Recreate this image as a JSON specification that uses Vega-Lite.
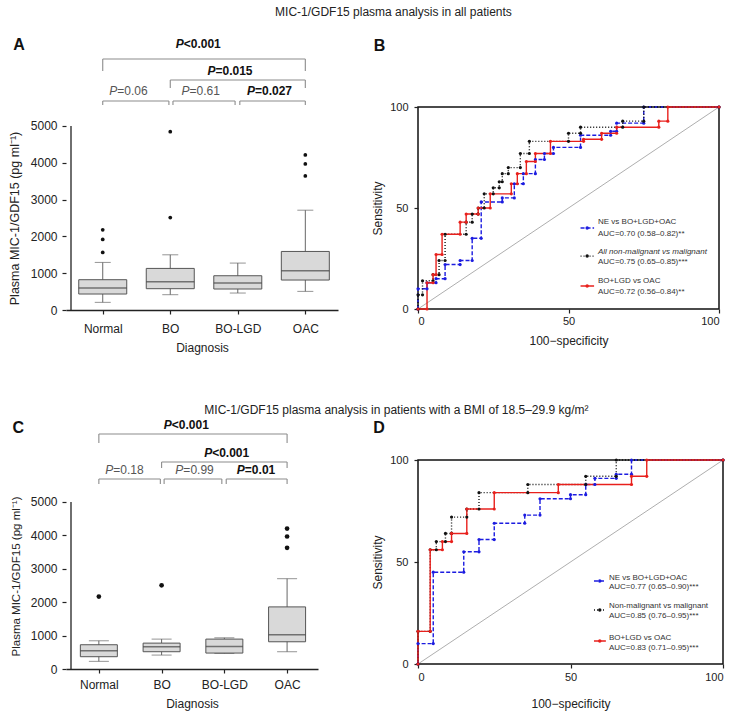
{
  "$schema": "https://vega.github.io/schema/vega-lite/v6.json",
  "background": "white",
  "padding": {"left": 8, "top": 5, "right": 2, "bottom": 2},
  "config": {
    "font": "Liberation Sans",
    "view": {"stroke": null},
    "axis": {"grid": false, "labelFontSize": 12, "titleFontSize": 12, "titleFontWeight": "normal", "labelColor": "#222", "titleColor": "#222", "domainColor": "#222", "tickColor": "#222", "domainWidth": 1.3, "tickWidth": 1.2, "tickSize": 4},
    "text": {"font": "Liberation Sans"},
    "title": {"font": "Liberation Sans"}
  },
  "datasets": {
    "boxA": [
      {"pos": 1, "lo": 208, "q1": 434, "med": 597, "q3": 823, "hi": 1293},
      {"pos": 2, "lo": 416, "q1": 579, "med": 768, "q3": 1130, "hi": 1500},
      {"pos": 3, "lo": 461, "q1": 570, "med": 732, "q3": 931, "hi": 1275},
      {"pos": 4, "lo": 506, "q1": 814, "med": 1067, "q3": 1591, "hi": 2712}
    ],
    "outA": [
      {"pos": 1, "v": 2180}, {"pos": 1, "v": 1917}, {"pos": 1, "v": 1564},
      {"pos": 2, "v": 4845}, {"pos": 2, "v": 2513},
      {"pos": 4, "v": 4213}, {"pos": 4, "v": 3969}, {"pos": 4, "v": 3643}
    ],
    "brA": [
      {"x1": 1, "x2": 1.98, "y": 5679, "yb": 5571},
      {"x1": 2.04, "x2": 2.96, "y": 5679, "yb": 5571},
      {"x1": 3.03, "x2": 4, "y": 5679, "yb": 5571},
      {"x1": 2, "x2": 4, "y": 6250, "yb": 6033},
      {"x1": 1, "x2": 4, "y": 6821, "yb": 6495}
    ],
    "lblA": [
      {"xs": 1.215, "y": 5951, "rest": "=0.06", "bold": false},
      {"xs": 2.285, "y": 5951, "rest": "=0.61", "bold": false},
      {"xs": 3.255, "y": 5951, "rest": "=0.027", "bold": true},
      {"xs": 2.67, "y": 6495, "rest": "=0.015", "bold": true},
      {"xs": 2.199, "y": 7228, "rest": "<0.001", "bold": true}
    ],
    "tagA": [{"x": -0.24, "y": 7188, "t": "A"}],
    "boxC": [
      {"pos": 1, "lo": 229, "q1": 368, "med": 547, "q3": 726, "hi": 845},
      {"pos": 2, "lo": 417, "q1": 517, "med": 666, "q3": 775, "hi": 895},
      {"pos": 3, "lo": 467, "q1": 477, "med": 676, "q3": 895, "hi": 934},
      {"pos": 4, "lo": 517, "q1": 815, "med": 1024, "q3": 1859, "hi": 2704}
    ],
    "outC": [
      {"pos": 1, "v": 2167}, {"pos": 2, "v": 2505},
      {"pos": 4, "v": 4205}, {"pos": 4, "v": 3966}, {"pos": 4, "v": 3628}
    ],
    "brC": [
      {"x1": 1, "x2": 1.98, "y": 5689, "yb": 5539},
      {"x1": 2.04, "x2": 2.96, "y": 5689, "yb": 5539},
      {"x1": 3.03, "x2": 4, "y": 5689, "yb": 5539},
      {"x1": 2, "x2": 4, "y": 6198, "yb": 6018},
      {"x1": 1, "x2": 4, "y": 7036, "yb": 6766}
    ],
    "lblC": [
      {"xs": 1.23, "y": 5958, "rest": "=0.18", "bold": false},
      {"xs": 2.347, "y": 5958, "rest": "=0.99", "bold": false},
      {"xs": 3.327, "y": 5958, "rest": "=0.01", "bold": true},
      {"xs": 2.806, "y": 6467, "rest": "<0.001", "bold": true},
      {"xs": 2.163, "y": 7305, "rest": "<0.001", "bold": true}
    ],
    "tagC": [{"x": -0.286, "y": 7216, "t": "C"}],
    "diag": [{"fpr": 0, "tpr": 0}, {"fpr": 100, "tpr": 100}],
    "rocB": [
      {"s": "NE", "fpr": 0, "tpr": 0}, {"s": "NE", "fpr": 0, "tpr": 10}, {"s": "NE", "fpr": 3, "tpr": 10}, {"s": "NE", "fpr": 3, "tpr": 13}, {"s": "NE", "fpr": 6, "tpr": 13}, {"s": "NE", "fpr": 6, "tpr": 15}, {"s": "NE", "fpr": 9, "tpr": 15}, {"s": "NE", "fpr": 9, "tpr": 22}, {"s": "NE", "fpr": 14, "tpr": 22}, {"s": "NE", "fpr": 14, "tpr": 24}, {"s": "NE", "fpr": 18, "tpr": 24}, {"s": "NE", "fpr": 18, "tpr": 35}, {"s": "NE", "fpr": 21, "tpr": 35}, {"s": "NE", "fpr": 21, "tpr": 53}, {"s": "NE", "fpr": 28, "tpr": 53}, {"s": "NE", "fpr": 28, "tpr": 55}, {"s": "NE", "fpr": 32, "tpr": 55}, {"s": "NE", "fpr": 32, "tpr": 62}, {"s": "NE", "fpr": 35, "tpr": 62}, {"s": "NE", "fpr": 35, "tpr": 67}, {"s": "NE", "fpr": 39, "tpr": 67}, {"s": "NE", "fpr": 39, "tpr": 74}, {"s": "NE", "fpr": 42, "tpr": 74}, {"s": "NE", "fpr": 42, "tpr": 77}, {"s": "NE", "fpr": 45, "tpr": 77}, {"s": "NE", "fpr": 45, "tpr": 80}, {"s": "NE", "fpr": 54, "tpr": 80}, {"s": "NE", "fpr": 54, "tpr": 86}, {"s": "NE", "fpr": 64, "tpr": 86}, {"s": "NE", "fpr": 64, "tpr": 88}, {"s": "NE", "fpr": 66, "tpr": 88}, {"s": "NE", "fpr": 66, "tpr": 92}, {"s": "NE", "fpr": 75, "tpr": 92}, {"s": "NE", "fpr": 75, "tpr": 100}, {"s": "NE", "fpr": 100, "tpr": 100},
      {"s": "All", "fpr": 0, "tpr": 0}, {"s": "All", "fpr": 0, "tpr": 7}, {"s": "All", "fpr": 1.5, "tpr": 7}, {"s": "All", "fpr": 1.5, "tpr": 14}, {"s": "All", "fpr": 5, "tpr": 14}, {"s": "All", "fpr": 5, "tpr": 17}, {"s": "All", "fpr": 7, "tpr": 17}, {"s": "All", "fpr": 7, "tpr": 24}, {"s": "All", "fpr": 9, "tpr": 24}, {"s": "All", "fpr": 9, "tpr": 37}, {"s": "All", "fpr": 16, "tpr": 37}, {"s": "All", "fpr": 16, "tpr": 43}, {"s": "All", "fpr": 18, "tpr": 43}, {"s": "All", "fpr": 18, "tpr": 47}, {"s": "All", "fpr": 20, "tpr": 47}, {"s": "All", "fpr": 20, "tpr": 50}, {"s": "All", "fpr": 22, "tpr": 50}, {"s": "All", "fpr": 22, "tpr": 57}, {"s": "All", "fpr": 25, "tpr": 57}, {"s": "All", "fpr": 25, "tpr": 60}, {"s": "All", "fpr": 27, "tpr": 60}, {"s": "All", "fpr": 27, "tpr": 63}, {"s": "All", "fpr": 28, "tpr": 63}, {"s": "All", "fpr": 28, "tpr": 67}, {"s": "All", "fpr": 30, "tpr": 67}, {"s": "All", "fpr": 30, "tpr": 70}, {"s": "All", "fpr": 34, "tpr": 70}, {"s": "All", "fpr": 34, "tpr": 77}, {"s": "All", "fpr": 37, "tpr": 77}, {"s": "All", "fpr": 37, "tpr": 83}, {"s": "All", "fpr": 50, "tpr": 83}, {"s": "All", "fpr": 50, "tpr": 87}, {"s": "All", "fpr": 54, "tpr": 87}, {"s": "All", "fpr": 54, "tpr": 90}, {"s": "All", "fpr": 68, "tpr": 90}, {"s": "All", "fpr": 68, "tpr": 93}, {"s": "All", "fpr": 75, "tpr": 93}, {"s": "All", "fpr": 75, "tpr": 100}, {"s": "All", "fpr": 100, "tpr": 100},
      {"s": "BO", "fpr": 0, "tpr": 0}, {"s": "BO", "fpr": 3, "tpr": 0}, {"s": "BO", "fpr": 3, "tpr": 13}, {"s": "BO", "fpr": 5, "tpr": 13}, {"s": "BO", "fpr": 5, "tpr": 17}, {"s": "BO", "fpr": 6, "tpr": 17}, {"s": "BO", "fpr": 6, "tpr": 27}, {"s": "BO", "fpr": 8, "tpr": 27}, {"s": "BO", "fpr": 8, "tpr": 37}, {"s": "BO", "fpr": 14, "tpr": 37}, {"s": "BO", "fpr": 14, "tpr": 43}, {"s": "BO", "fpr": 16, "tpr": 43}, {"s": "BO", "fpr": 16, "tpr": 47}, {"s": "BO", "fpr": 20, "tpr": 47}, {"s": "BO", "fpr": 20, "tpr": 50}, {"s": "BO", "fpr": 24, "tpr": 50}, {"s": "BO", "fpr": 24, "tpr": 57}, {"s": "BO", "fpr": 31, "tpr": 57}, {"s": "BO", "fpr": 31, "tpr": 62}, {"s": "BO", "fpr": 33, "tpr": 62}, {"s": "BO", "fpr": 33, "tpr": 67}, {"s": "BO", "fpr": 36, "tpr": 67}, {"s": "BO", "fpr": 36, "tpr": 73}, {"s": "BO", "fpr": 39, "tpr": 73}, {"s": "BO", "fpr": 39, "tpr": 77}, {"s": "BO", "fpr": 44, "tpr": 77}, {"s": "BO", "fpr": 44, "tpr": 83}, {"s": "BO", "fpr": 55, "tpr": 83}, {"s": "BO", "fpr": 55, "tpr": 84}, {"s": "BO", "fpr": 61, "tpr": 84}, {"s": "BO", "fpr": 61, "tpr": 87}, {"s": "BO", "fpr": 66, "tpr": 87}, {"s": "BO", "fpr": 66, "tpr": 90}, {"s": "BO", "fpr": 80, "tpr": 90}, {"s": "BO", "fpr": 80, "tpr": 93}, {"s": "BO", "fpr": 83, "tpr": 93}, {"s": "BO", "fpr": 83, "tpr": 100}, {"s": "BO", "fpr": 100, "tpr": 100}
    ],
    "legB": [
      {"s": "NE", "x1": 54, "x2": 58.5, "xm": 56.2, "y": 40.1},
      {"s": "All", "x1": 54, "x2": 58.5, "xm": 56.2, "y": 26.2},
      {"s": "BO", "x1": 54, "x2": 58.5, "xm": 56.2, "y": 11.4}
    ],
    "legTB": [
      {"t": "NE vs BO+LGD+OAC", "x": 59.8, "y": 43, "it": false},
      {"t": "AUC=0.70 (0.58–0.82)**", "x": 59.8, "y": 37.1, "it": false},
      {"t": "All non-malignant vs malignant", "x": 59.8, "y": 28.4, "it": true},
      {"t": "AUC=0.75 (0.65–0.85)***", "x": 59.8, "y": 23.4, "it": false},
      {"t": "BO+LGD vs OAC", "x": 59.8, "y": 13.9, "it": false},
      {"t": "AUC=0.72 (0.56–0.84)**", "x": 59.8, "y": 8.6, "it": false}
    ],
    "tagB": [{"x": -12.8, "y": 130.4, "t": "B"}],
    "rocD": [
      {"s": "NE", "fpr": 0, "tpr": 0}, {"s": "NE", "fpr": 0, "tpr": 10}, {"s": "NE", "fpr": 5, "tpr": 10}, {"s": "NE", "fpr": 5, "tpr": 45}, {"s": "NE", "fpr": 15, "tpr": 45}, {"s": "NE", "fpr": 15, "tpr": 55}, {"s": "NE", "fpr": 20, "tpr": 55}, {"s": "NE", "fpr": 20, "tpr": 61}, {"s": "NE", "fpr": 25, "tpr": 61}, {"s": "NE", "fpr": 25, "tpr": 69}, {"s": "NE", "fpr": 35, "tpr": 69}, {"s": "NE", "fpr": 35, "tpr": 73}, {"s": "NE", "fpr": 40, "tpr": 73}, {"s": "NE", "fpr": 40, "tpr": 81}, {"s": "NE", "fpr": 50, "tpr": 81}, {"s": "NE", "fpr": 50, "tpr": 83}, {"s": "NE", "fpr": 55, "tpr": 83}, {"s": "NE", "fpr": 55, "tpr": 88}, {"s": "NE", "fpr": 58, "tpr": 88}, {"s": "NE", "fpr": 58, "tpr": 91}, {"s": "NE", "fpr": 65, "tpr": 91}, {"s": "NE", "fpr": 65, "tpr": 93}, {"s": "NE", "fpr": 70, "tpr": 93}, {"s": "NE", "fpr": 70, "tpr": 100}, {"s": "NE", "fpr": 100, "tpr": 100},
      {"s": "All", "fpr": 0, "tpr": 0}, {"s": "All", "fpr": 0, "tpr": 16}, {"s": "All", "fpr": 4, "tpr": 16}, {"s": "All", "fpr": 4, "tpr": 56}, {"s": "All", "fpr": 6, "tpr": 56}, {"s": "All", "fpr": 6, "tpr": 60}, {"s": "All", "fpr": 9, "tpr": 60}, {"s": "All", "fpr": 9, "tpr": 64}, {"s": "All", "fpr": 11, "tpr": 64}, {"s": "All", "fpr": 11, "tpr": 72}, {"s": "All", "fpr": 16, "tpr": 72}, {"s": "All", "fpr": 16, "tpr": 76}, {"s": "All", "fpr": 20, "tpr": 76}, {"s": "All", "fpr": 20, "tpr": 84}, {"s": "All", "fpr": 36, "tpr": 84}, {"s": "All", "fpr": 36, "tpr": 88}, {"s": "All", "fpr": 55, "tpr": 88}, {"s": "All", "fpr": 55, "tpr": 92}, {"s": "All", "fpr": 65, "tpr": 92}, {"s": "All", "fpr": 65, "tpr": 100}, {"s": "All", "fpr": 100, "tpr": 100},
      {"s": "BO", "fpr": 0, "tpr": 0}, {"s": "BO", "fpr": 0, "tpr": 16}, {"s": "BO", "fpr": 4, "tpr": 16}, {"s": "BO", "fpr": 4, "tpr": 56}, {"s": "BO", "fpr": 8, "tpr": 56}, {"s": "BO", "fpr": 8, "tpr": 60}, {"s": "BO", "fpr": 11, "tpr": 60}, {"s": "BO", "fpr": 11, "tpr": 64}, {"s": "BO", "fpr": 16, "tpr": 64}, {"s": "BO", "fpr": 16, "tpr": 76}, {"s": "BO", "fpr": 25, "tpr": 76}, {"s": "BO", "fpr": 25, "tpr": 84}, {"s": "BO", "fpr": 46, "tpr": 84}, {"s": "BO", "fpr": 46, "tpr": 88}, {"s": "BO", "fpr": 70, "tpr": 88}, {"s": "BO", "fpr": 70, "tpr": 92}, {"s": "BO", "fpr": 75, "tpr": 92}, {"s": "BO", "fpr": 75, "tpr": 100}, {"s": "BO", "fpr": 100, "tpr": 100}
    ],
    "legD": [
      {"s": "NE", "x1": 57.7, "x2": 61.6, "xm": 59.6, "y": 40.7},
      {"s": "All", "x1": 57.7, "x2": 61.6, "xm": 59.6, "y": 26.5},
      {"s": "BO", "x1": 57.7, "x2": 61.6, "xm": 59.6, "y": 11.3}
    ],
    "legTD": [
      {"t": "NE vs BO+LGD+OAC", "x": 62.6, "y": 42.2, "it": false},
      {"t": "AUC=0.77 (0.65–0.90)***", "x": 62.6, "y": 37.7, "it": false},
      {"t": "Non-malignant vs malignant", "x": 62.6, "y": 28.4, "it": false},
      {"t": "AUC=0.85 (0.76–0.95)***", "x": 62.6, "y": 23.5, "it": false},
      {"t": "BO+LGD vs OAC", "x": 62.6, "y": 12.7, "it": false},
      {"t": "AUC=0.83 (0.71–0.95)***", "x": 62.6, "y": 7.8, "it": false}
    ],
    "tagD": [{"x": -12.8, "y": 115.9, "t": "D"}]
  },
  "spacing": 50,
  "vconcat": [
    {
      "title": {"text": "MIC-1/GDF15 plasma analysis in all patients", "anchor": "middle", "fontSize": 12, "fontWeight": "normal", "color": "#222", "offset": 18, "dx": 28},
      "spacing": 32,
      "hconcat": [
        {
          "width": 272,
          "height": 203,
          "layer": [
            {"data": {"name": "boxA"}, "mark": {"type": "rule", "color": "#666", "strokeWidth": 1},
             "encoding": {
               "x": {"field": "pos", "type": "quantitative", "scale": {"domain": [0.53, 4.41], "nice": false, "zero": false},
                     "axis": {"title": "Diagnosis", "values": [1, 2, 3, 4], "labelExpr": "['','Normal','BO','BO-LGD','OAC'][datum.value]", "labelPadding": 9, "titlePadding": 8}},
               "y": {"field": "lo", "type": "quantitative", "scale": {"domain": [0, 5516], "nice": false},
                     "axis": {"title": "Plasma MIC-1/GDF15 (pg ml⁻¹)", "values": [0, 1000, 2000, 3000, 4000, 5000], "format": "d", "domain": false, "labelPadding": 5, "titlePadding": 9, "titleY": 111, "titleFontSize": 12.5}},
               "y2": {"field": "hi"}}},
            {"data": {"name": "boxA"}, "mark": {"type": "tick", "orient": "horizontal", "size": 16, "thickness": 1, "color": "#666"},
             "encoding": {"x": {"field": "pos", "type": "quantitative"}, "y": {"field": "lo", "type": "quantitative"}}},
            {"data": {"name": "boxA"}, "mark": {"type": "tick", "orient": "horizontal", "size": 16, "thickness": 1, "color": "#666"},
             "encoding": {"x": {"field": "pos", "type": "quantitative"}, "y": {"field": "hi", "type": "quantitative"}}},
            {"data": {"name": "boxA"}, "mark": {"type": "bar", "size": 48, "fill": "#d9d9d9", "stroke": "#555", "strokeWidth": 1},
             "encoding": {"x": {"field": "pos", "type": "quantitative"}, "y": {"field": "q1", "type": "quantitative"}, "y2": {"field": "q3"}}},
            {"data": {"name": "boxA"}, "mark": {"type": "tick", "orient": "horizontal", "size": 48, "thickness": 1.5, "color": "#444"},
             "encoding": {"x": {"field": "pos", "type": "quantitative"}, "y": {"field": "med", "type": "quantitative"}}},
            {"data": {"name": "outA"}, "mark": {"type": "point", "filled": true, "color": "#111", "size": 14, "opacity": 1},
             "encoding": {"x": {"field": "pos", "type": "quantitative"}, "y": {"field": "v", "type": "quantitative"}}},
            {"data": {"values": [{}]}, "mark": {"type": "rule", "color": "#222", "strokeWidth": 1.3},
             "encoding": {"x": {"datum": 0.53, "type": "quantitative"}, "y": {"datum": 0, "type": "quantitative"}, "y2": {"datum": 5000}}},
            {"data": {"name": "brA"}, "mark": {"type": "rule", "color": "#8c8c8c", "strokeWidth": 1.1},
             "encoding": {"x": {"field": "x1", "type": "quantitative"}, "x2": {"field": "x2"}, "y": {"field": "y", "type": "quantitative"}}},
            {"data": {"name": "brA"}, "mark": {"type": "rule", "color": "#8c8c8c", "strokeWidth": 1.1},
             "encoding": {"x": {"field": "x1", "type": "quantitative"}, "y": {"field": "y", "type": "quantitative"}, "y2": {"field": "yb"}}},
            {"data": {"name": "brA"}, "mark": {"type": "rule", "color": "#8c8c8c", "strokeWidth": 1.1},
             "encoding": {"x": {"field": "x2", "type": "quantitative"}, "y": {"field": "y", "type": "quantitative"}, "y2": {"field": "yb"}}},
            {"data": {"name": "lblA"}, "transform": [{"filter": "!datum.bold"}], "mark": {"type": "text", "align": "right", "baseline": "middle", "fontSize": 12, "fontStyle": "italic", "color": "#555"},
             "encoding": {"x": {"field": "xs", "type": "quantitative"}, "y": {"field": "y", "type": "quantitative"}, "text": {"value": "P"}}},
            {"data": {"name": "lblA"}, "transform": [{"filter": "!datum.bold"}], "mark": {"type": "text", "align": "left", "baseline": "middle", "fontSize": 12, "color": "#555"},
             "encoding": {"x": {"field": "xs", "type": "quantitative"}, "y": {"field": "y", "type": "quantitative"}, "text": {"field": "rest"}}},
            {"data": {"name": "lblA"}, "transform": [{"filter": "datum.bold"}], "mark": {"type": "text", "align": "right", "baseline": "middle", "fontSize": 12, "fontStyle": "italic", "fontWeight": "bold", "color": "#111"},
             "encoding": {"x": {"field": "xs", "type": "quantitative"}, "y": {"field": "y", "type": "quantitative"}, "text": {"value": "P"}}},
            {"data": {"name": "lblA"}, "transform": [{"filter": "datum.bold"}], "mark": {"type": "text", "align": "left", "baseline": "middle", "fontSize": 12, "fontWeight": "bold", "color": "#111"},
             "encoding": {"x": {"field": "xs", "type": "quantitative"}, "y": {"field": "y", "type": "quantitative"}, "text": {"field": "rest"}}},
            {"data": {"name": "tagA"}, "mark": {"type": "text", "align": "center", "baseline": "middle", "fontSize": 16, "fontWeight": "bold", "color": "#111"},
             "encoding": {"x": {"field": "x", "type": "quantitative"}, "y": {"field": "y", "type": "quantitative"}, "text": {"field": "t"}}}
          ]
        },
        {
          "width": 301,
          "height": 202,
          "view": {"stroke": "#111", "strokeWidth": 1.5},
          "layer": [
            {"data": {"name": "diag"}, "mark": {"type": "line", "color": "#999", "strokeWidth": 0.8},
             "encoding": {
               "x": {"field": "fpr", "type": "quantitative", "scale": {"domain": [0, 100], "nice": false}, "axis": {"title": "100−specificity", "values": [0, 50, 100], "domain": false, "labelFontSize": 11, "labelPadding": 2, "titlePadding": 9}},
               "y": {"field": "tpr", "type": "quantitative", "scale": {"domain": [0, 100], "nice": false}, "axis": {"title": "Sensitivity", "values": [0, 50, 100], "domain": false, "labelFontSize": 11, "labelPadding": 6, "titlePadding": 5}}}},
            {"data": {"name": "rocB"}, "mark": {"type": "line", "strokeWidth": 1.4},
             "encoding": {
               "x": {"field": "fpr", "type": "quantitative"},
               "y": {"field": "tpr", "type": "quantitative"},
               "color": {"field": "s", "type": "nominal", "scale": {"domain": ["NE", "All", "BO"], "range": ["#1c1ce0", "#111111", "#e8201c"]}, "legend": null},
               "strokeDash": {"field": "s", "type": "nominal", "scale": {"domain": ["NE", "All", "BO"], "range": [[4, 2], [1, 2], [1, 0]]}, "legend": null},
               "order": [{"field": "fpr"}, {"field": "tpr"}]}},
            {"data": {"name": "rocB"}, "mark": {"type": "point", "filled": true, "size": 10, "opacity": 1},
             "encoding": {
               "x": {"field": "fpr", "type": "quantitative"},
               "y": {"field": "tpr", "type": "quantitative"},
               "color": {"field": "s", "type": "nominal", "legend": null}}},
            {"data": {"name": "legB"}, "mark": {"type": "rule", "strokeWidth": 1.4},
             "encoding": {
               "x": {"field": "x1", "type": "quantitative"}, "x2": {"field": "x2"},
               "y": {"field": "y", "type": "quantitative"},
               "color": {"field": "s", "type": "nominal", "legend": null},
               "strokeDash": {"field": "s", "type": "nominal", "legend": null}}},
            {"data": {"name": "legB"}, "mark": {"type": "point", "filled": true, "size": 12, "opacity": 1},
             "encoding": {
               "x": {"field": "xm", "type": "quantitative"},
               "y": {"field": "y", "type": "quantitative"},
               "color": {"field": "s", "type": "nominal", "legend": null}}},
            {"data": {"name": "legTB"}, "transform": [{"filter": "!datum.it"}], "mark": {"type": "text", "align": "left", "baseline": "middle", "fontSize": 8, "color": "#333"},
             "encoding": {"x": {"field": "x", "type": "quantitative"}, "y": {"field": "y", "type": "quantitative"}, "text": {"field": "t"}}},
            {"data": {"name": "legTB"}, "transform": [{"filter": "datum.it"}], "mark": {"type": "text", "align": "left", "baseline": "middle", "fontSize": 8, "fontStyle": "italic", "color": "#333"},
             "encoding": {"x": {"field": "x", "type": "quantitative"}, "y": {"field": "y", "type": "quantitative"}, "text": {"field": "t"}}},
            {"data": {"name": "tagB"}, "mark": {"type": "text", "align": "center", "baseline": "middle", "fontSize": 16, "fontWeight": "bold", "color": "#111"},
             "encoding": {"x": {"field": "x", "type": "quantitative"}, "y": {"field": "y", "type": "quantitative"}, "text": {"field": "t"}}}
          ]
        }
      ]
    },
    {
      "title": {"text": "MIC-1/GDF15 plasma analysis in patients with a BMI of 18.5–29.9 kg/m²", "anchor": "middle", "fontSize": 12, "fontWeight": "normal", "color": "#222", "offset": 2, "dx": 28},
      "spacing": 52,
      "hconcat": [
        {
          "width": 252,
          "height": 209,
          "layer": [
            {"data": {"name": "boxC"}, "mark": {"type": "rule", "color": "#666", "strokeWidth": 1},
             "encoding": {
               "x": {"field": "pos", "type": "quantitative", "scale": {"domain": [0.556, 4.413], "nice": false, "zero": false},
                     "axis": {"title": "Diagnosis", "values": [1, 2, 3, 4], "labelExpr": "['','Normal','BO','BO-LGD','OAC'][datum.value]", "labelPadding": 6, "titlePadding": 8}},
               "y": {"field": "lo", "type": "quantitative", "scale": {"domain": [0, 6257], "nice": false},
                     "axis": {"title": "Plasma MIC-1/GDF15 (pg ml⁻¹)", "values": [0, 1000, 2000, 3000, 4000, 5000], "format": "d", "domain": false, "labelPadding": 5, "titlePadding": 9, "titleY": 116, "titleFontSize": 11.5}},
               "y2": {"field": "hi"}}},
            {"data": {"name": "boxC"}, "mark": {"type": "tick", "orient": "horizontal", "size": 20, "thickness": 1, "color": "#666"},
             "encoding": {"x": {"field": "pos", "type": "quantitative"}, "y": {"field": "lo", "type": "quantitative"}}},
            {"data": {"name": "boxC"}, "mark": {"type": "tick", "orient": "horizontal", "size": 20, "thickness": 1, "color": "#666"},
             "encoding": {"x": {"field": "pos", "type": "quantitative"}, "y": {"field": "hi", "type": "quantitative"}}},
            {"data": {"name": "boxC"}, "mark": {"type": "bar", "size": 37, "fill": "#d9d9d9", "stroke": "#555", "strokeWidth": 1},
             "encoding": {"x": {"field": "pos", "type": "quantitative"}, "y": {"field": "q1", "type": "quantitative"}, "y2": {"field": "q3"}}},
            {"data": {"name": "boxC"}, "mark": {"type": "tick", "orient": "horizontal", "size": 37, "thickness": 1.5, "color": "#444"},
             "encoding": {"x": {"field": "pos", "type": "quantitative"}, "y": {"field": "med", "type": "quantitative"}}},
            {"data": {"name": "outC"}, "mark": {"type": "point", "filled": true, "color": "#111", "size": 22, "opacity": 1},
             "encoding": {"x": {"field": "pos", "type": "quantitative"}, "y": {"field": "v", "type": "quantitative"}}},
            {"data": {"values": [{}]}, "mark": {"type": "rule", "color": "#222", "strokeWidth": 1.3},
             "encoding": {"x": {"datum": 0.556, "type": "quantitative"}, "y": {"datum": 0, "type": "quantitative"}, "y2": {"datum": 5000}}},
            {"data": {"name": "brC"}, "mark": {"type": "rule", "color": "#8c8c8c", "strokeWidth": 1.1},
             "encoding": {"x": {"field": "x1", "type": "quantitative"}, "x2": {"field": "x2"}, "y": {"field": "y", "type": "quantitative"}}},
            {"data": {"name": "brC"}, "mark": {"type": "rule", "color": "#8c8c8c", "strokeWidth": 1.1},
             "encoding": {"x": {"field": "x1", "type": "quantitative"}, "y": {"field": "y", "type": "quantitative"}, "y2": {"field": "yb"}}},
            {"data": {"name": "brC"}, "mark": {"type": "rule", "color": "#8c8c8c", "strokeWidth": 1.1},
             "encoding": {"x": {"field": "x2", "type": "quantitative"}, "y": {"field": "y", "type": "quantitative"}, "y2": {"field": "yb"}}},
            {"data": {"name": "lblC"}, "transform": [{"filter": "!datum.bold"}], "mark": {"type": "text", "align": "right", "baseline": "middle", "fontSize": 12, "fontStyle": "italic", "color": "#555"},
             "encoding": {"x": {"field": "xs", "type": "quantitative"}, "y": {"field": "y", "type": "quantitative"}, "text": {"value": "P"}}},
            {"data": {"name": "lblC"}, "transform": [{"filter": "!datum.bold"}], "mark": {"type": "text", "align": "left", "baseline": "middle", "fontSize": 12, "color": "#555"},
             "encoding": {"x": {"field": "xs", "type": "quantitative"}, "y": {"field": "y", "type": "quantitative"}, "text": {"field": "rest"}}},
            {"data": {"name": "lblC"}, "transform": [{"filter": "datum.bold"}], "mark": {"type": "text", "align": "right", "baseline": "middle", "fontSize": 12, "fontStyle": "italic", "fontWeight": "bold", "color": "#111"},
             "encoding": {"x": {"field": "xs", "type": "quantitative"}, "y": {"field": "y", "type": "quantitative"}, "text": {"value": "P"}}},
            {"data": {"name": "lblC"}, "transform": [{"filter": "datum.bold"}], "mark": {"type": "text", "align": "left", "baseline": "middle", "fontSize": 12, "fontWeight": "bold", "color": "#111"},
             "encoding": {"x": {"field": "xs", "type": "quantitative"}, "y": {"field": "y", "type": "quantitative"}, "text": {"field": "rest"}}},
            {"data": {"name": "tagC"}, "mark": {"type": "text", "align": "center", "baseline": "middle", "fontSize": 16, "fontWeight": "bold", "color": "#111"},
             "encoding": {"x": {"field": "x", "type": "quantitative"}, "y": {"field": "y", "type": "quantitative"}, "text": {"field": "t"}}}
          ]
        },
        {
          "width": 305,
          "height": 204,
          "view": {"stroke": "#111", "strokeWidth": 1.5},
          "layer": [
            {"data": {"name": "diag"}, "mark": {"type": "line", "color": "#999", "strokeWidth": 0.8},
             "encoding": {
               "x": {"field": "fpr", "type": "quantitative", "scale": {"domain": [0, 100], "nice": false}, "axis": {"title": "100−specificity", "values": [0, 50, 100], "domain": false, "labelFontSize": 11, "labelPadding": 3, "titlePadding": 16}},
               "y": {"field": "tpr", "type": "quantitative", "scale": {"domain": [0, 100], "nice": false}, "axis": {"title": "Sensitivity", "values": [0, 50, 100], "domain": false, "labelFontSize": 11, "labelPadding": 6, "titlePadding": 5}}}},
            {"data": {"name": "rocD"}, "mark": {"type": "line", "strokeWidth": 1.4},
             "encoding": {
               "x": {"field": "fpr", "type": "quantitative"},
               "y": {"field": "tpr", "type": "quantitative"},
               "color": {"field": "s", "type": "nominal", "scale": {"domain": ["NE", "All", "BO"], "range": ["#1c1ce0", "#111111", "#e8201c"]}, "legend": null},
               "strokeDash": {"field": "s", "type": "nominal", "scale": {"domain": ["NE", "All", "BO"], "range": [[4, 2], [1, 2], [1, 0]]}, "legend": null},
               "order": [{"field": "fpr"}, {"field": "tpr"}]}},
            {"data": {"name": "rocD"}, "mark": {"type": "point", "filled": true, "size": 10, "opacity": 1},
             "encoding": {
               "x": {"field": "fpr", "type": "quantitative"},
               "y": {"field": "tpr", "type": "quantitative"},
               "color": {"field": "s", "type": "nominal", "legend": null}}},
            {"data": {"name": "legD"}, "mark": {"type": "rule", "strokeWidth": 1.4},
             "encoding": {
               "x": {"field": "x1", "type": "quantitative"}, "x2": {"field": "x2"},
               "y": {"field": "y", "type": "quantitative"},
               "color": {"field": "s", "type": "nominal", "legend": null},
               "strokeDash": {"field": "s", "type": "nominal", "legend": null}}},
            {"data": {"name": "legD"}, "mark": {"type": "point", "filled": true, "size": 12, "opacity": 1},
             "encoding": {
               "x": {"field": "xm", "type": "quantitative"},
               "y": {"field": "y", "type": "quantitative"},
               "color": {"field": "s", "type": "nominal", "legend": null}}},
            {"data": {"name": "legTD"}, "mark": {"type": "text", "align": "left", "baseline": "middle", "fontSize": 8, "color": "#333"},
             "encoding": {"x": {"field": "x", "type": "quantitative"}, "y": {"field": "y", "type": "quantitative"}, "text": {"field": "t"}}},
            {"data": {"name": "tagD"}, "mark": {"type": "text", "align": "center", "baseline": "middle", "fontSize": 16, "fontWeight": "bold", "color": "#111"},
             "encoding": {"x": {"field": "x", "type": "quantitative"}, "y": {"field": "y", "type": "quantitative"}, "text": {"field": "t"}}}
          ]
        }
      ]
    }
  ]
}
